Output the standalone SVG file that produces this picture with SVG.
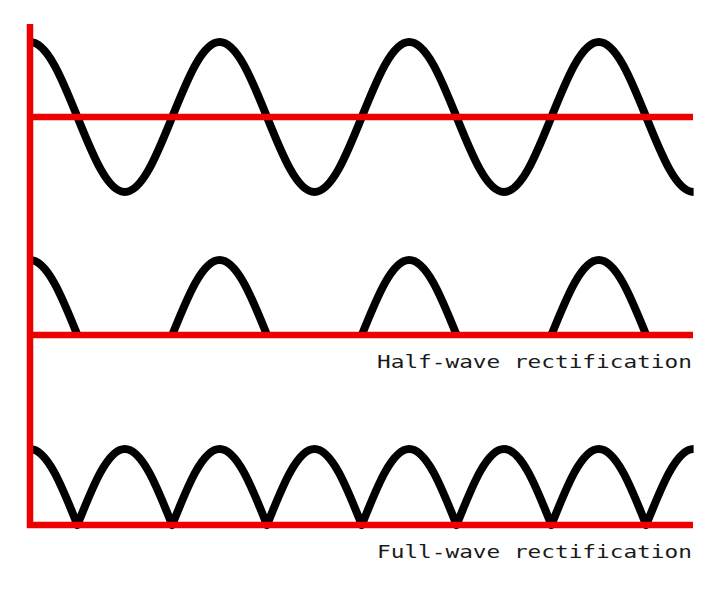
<svg xmlns="http://www.w3.org/2000/svg" width="720" height="595" viewBox="0 0 720 595">
<style>
.wave{fill:none;stroke:#000;stroke-width:8;stroke-linecap:butt;stroke-linejoin:round}
.axis{fill:none;stroke:#ee0000;stroke-width:6.5;stroke-linecap:butt}
.lbl{font-family:"DejaVu Sans Mono","Liberation Mono",monospace;font-size:18px;fill:#1a1a1a}
</style>
<rect width="720" height="595" fill="#fff"/>
<g id="waves">
<path id="sine" class="wave" d="M30 42 c 17.16 0 31.95 36.6 47.4 75 s 30.25 75 47.4 75 s 31.95 -36.6 47.4 -75 s 30.25 -75 47.4 -75 s 31.95 36.6 47.4 75 s 30.25 75 47.4 75 s 31.95 -36.6 47.4 -75 s 30.25 -75 47.4 -75 s 31.95 36.6 47.4 75 s 30.25 75 47.4 75 s 31.95 -36.6 47.4 -75 s 30.25 -75 47.4 -75 s 31.95 36.6 47.4 75 s 30.25 75 47.4 75"/>
<path id="half" class="wave" d="M30 260 c 17.16 0 31.95 36.6 47.4 75 M172.2 335 c 15.45 -38.4 30.25 -75 47.4 -75 s 31.95 36.6 47.4 75 M361.8 335 c 15.45 -38.4 30.25 -75 47.4 -75 s 31.95 36.6 47.4 75 M551.4 335 c 15.45 -38.4 30.25 -75 47.4 -75 s 31.95 36.6 47.4 75"/>
<path id="full" class="wave" d="M30 449 c 17.16 0 31.95 37.1 47.4 76 c 15.45 -38.9 30.25 -76 47.4 -76 s 31.95 37.1 47.4 76 c 15.45 -38.9 30.25 -76 47.4 -76 s 31.95 37.1 47.4 76 c 15.45 -38.9 30.25 -76 47.4 -76 s 31.95 37.1 47.4 76 c 15.45 -38.9 30.25 -76 47.4 -76 s 31.95 37.1 47.4 76 c 15.45 -38.9 30.25 -76 47.4 -76 s 31.95 37.1 47.4 76 c 15.45 -38.9 30.25 -76 47.4 -76 s 31.95 37.1 47.4 76 c 15.45 -38.9 30.25 -76 47.4 -76"/>
</g>
<g id="axes">
<line class="axis" x1="30" y1="24" x2="30" y2="528"/>
<line class="axis" x1="30" y1="117" x2="693" y2="117"/>
<line class="axis" x1="27" y1="335" x2="693" y2="335"/>
<line class="axis" x1="27" y1="525" x2="693" y2="525"/>
</g>
<g id="labels">
<text class="lbl" transform="translate(377 368) scale(1.264 1)">Half-wave rectification</text>
<text class="lbl" transform="translate(377 558) scale(1.264 1)">Full-wave rectification</text>
</g>
</svg>
